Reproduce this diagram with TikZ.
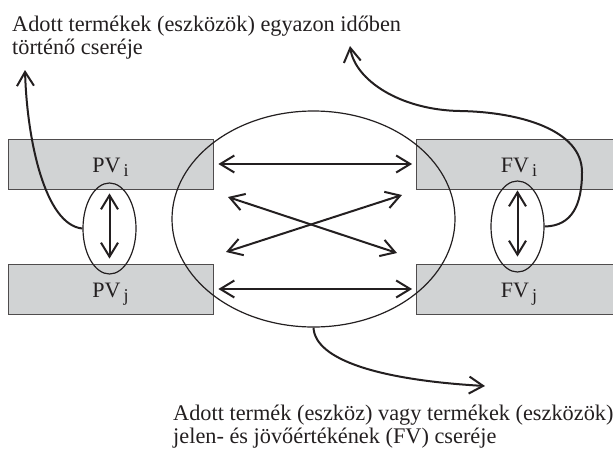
\documentclass[tikz,border=0pt]{standalone}
\usepackage{fontspec}
\setmainfont{Liberation Serif}
\usetikzlibrary{shapes.geometric,arrows.meta}
\definecolor{boxgray}{RGB}{209,211,212}
\definecolor{ink}{RGB}{35,31,32}
\newcommand\lowidx[1]{\hspace{3pt}\raisebox{-4pt}{\fontsize{18}{18}\selectfont #1}}
\tikzset{
  valbox/.style={draw=ink!80, line width=0.8pt, fill=boxgray, minimum width=205pt,
    minimum height=50pt, inner sep=0pt, text height=17pt, text depth=0pt,
    font=\fontsize{22}{24}\selectfont, text=ink},
  ell/.style={ellipse, draw=ink, line width=1.2pt, inner sep=0pt},
  barb/.tip={Straight Barb[length=14pt,width=17pt]},
  tip/.style={-barb, line width=2pt, draw=ink},
  dbl/.style={barb-barb, line width=2pt, draw=ink},
  note/.style={anchor=base west, inner sep=0pt, font=\fontsize{22.3}{23}\selectfont, text=ink},
}
\begin{document}
\begin{tikzpicture}[x=1pt,y=-1pt]
\useasboundingbox (0,0) rectangle (613,448);
\clip (0,0) rectangle (613,448);
% boxes
\node[valbox] (pvi) at (110.5,164) {PV\lowidx{i}};
\node[valbox] (pvj) at (110.5,289) {PV\lowidx{j}};
\node[valbox] (fvi) at (519,164) {FV\lowidx{i}};
\node[valbox] (fvj) at (519,289) {FV\lowidx{j}};
% ellipses
\node[ell, minimum width=53pt, minimum height=91pt] (le) at (109.5,228.5) {};
\node[ell, minimum width=53pt, minimum height=91pt] (re) at (517.5,226.5) {};
\node[ell, minimum width=283pt, minimum height=216pt] (big) at (313.5,219) {};
% vertical arrows
\draw[dbl, shorten <=4pt, shorten >=5pt] (le |- pvi.south) -- (le |- pvj.north);
\draw[dbl, shorten <=1pt, shorten >=7pt] (re |- fvi.south) -- (re |- fvj.north);
% horizontal arrows
\draw[dbl, shorten <=5pt, shorten >=4pt] (pvi.east) -- (fvi.west);
\draw[dbl, shorten <=5pt, shorten >=4pt] (pvj.east) -- (fvj.west);
% cross arrows
\coordinate (xa1) at (228,197);
\coordinate (xb1) at (397,253);
\coordinate (xa2) at (226,252);
\coordinate (xb2) at (402,195);
\draw[dbl] (xa1) -- (xb1);
\draw[dbl] (xa2) -- (xb2);
% texts
\node[note] (t1a) at (12,31) {Adott termékek (eszközök) egyazon időben};
\node[note] (t1b) at (12,54) {történő cseréje};
\node[note] (t2a) at (173,420) {Adott termék (eszköz) vagy termékek (eszközök)};
\node[note] (t2b) at (173,443) {jelen- és jövőértékének (FV) cseréje};
% curved pointers
\coordinate (tl) at (25,70);
\coordinate (tr) at (350,46);
\coordinate (tb) at (485,386);
\draw[tip] (le.west) .. controls (45,225) and (27,140) .. (tl);
\draw[tip] (re.east) .. controls (572,226) and (582,205) .. (582,172)
  .. controls (582,130) and (520,112) .. (460,111)
  .. controls (400,110) and (355,80) .. (tr);
\draw[tip] (big.south) .. controls (315,360) and (380,380) .. (tb);
\end{tikzpicture}
\end{document}
